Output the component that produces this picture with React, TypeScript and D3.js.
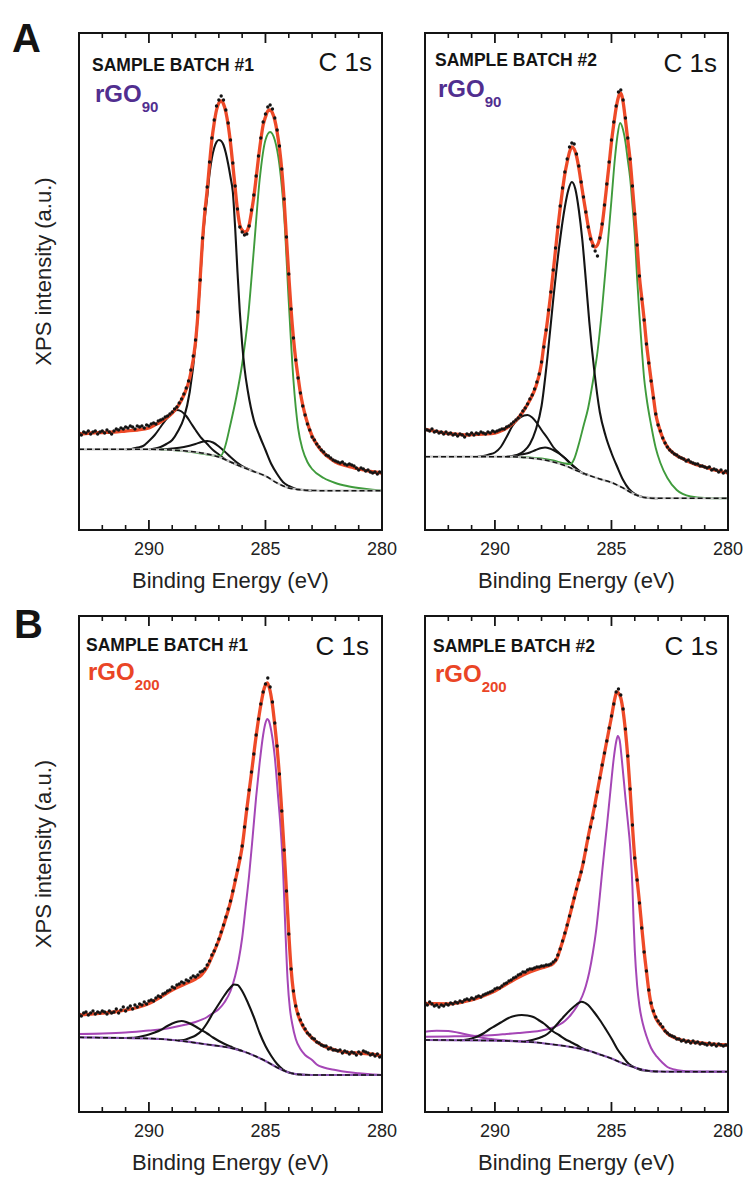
import React from 'react';
import * as d3 from 'd3';

type Pt = [number, number];

// ---------------- data ----------------
const energyDomain: [number, number] = [293, 280];
const majorTicks = [290, 285, 280];
const minorTicks = [292, 291, 289, 288, 287, 286, 284, 283, 282, 281];
const tickLabels = ['290', '285', '280'];
const dotStart = 293;
const dotStep = 0.1;

// ----- Panel A, batch 1 (rGO90) -----
const dotsA1 = [
  97, 95, 98, 97, 99, 96, 98, 99, 96, 98,
  99, 97, 100, 98, 96, 99, 101, 100, 102, 101,
  103, 102, 104, 103, 101, 104, 103, 104, 102, 105,
  104, 106, 107, 106, 109, 110, 111, 113, 114, 116,
  118, 121, 123, 127, 131, 136, 142, 149, 160, 174,
  190, 218, 250, 292, 321, 343, 368, 392, 410, 424,
  430, 434, 430, 420, 407, 390, 367, 344, 321, 303,
  298, 295, 296, 304, 320, 335, 354, 374, 392, 408,
  416, 423, 425, 421, 412, 400, 384, 361, 331, 293,
  256, 221, 192, 170, 152, 137, 124, 115, 106, 100,
  93, 90, 86, 83, 80, 78, 75, 74, 72, 70,
  69, 68, 67, 68, 66, 65, 66, 65, 64, 62,
  60, 62, 61, 59, 60, 58, 57, 58, 56, 58,
  57,
];
const fitA1: Pt[] = [[293,96],[292.5,97],[292,97.5],[291.5,98],[291,99],[290.5,100],[290,102],[289.75,105],[289.5,108],[289.25,112],[289,117],[288.75,124],[288.5,135],[288.25,152],[288,188],[287.9,215],[287.8,252],[287.7,290],[287.6,318],[287.5,340],[287.4,366],[287.3,390],[287.2,407],[287.1,420],[287,427],[286.9,429],[286.8,426],[286.7,418],[286.6,405],[286.5,387],[286.4,365],[286.3,342],[286.2,320],[286.1,305],[286,300],[285.9,298],[285.8,299],[285.7,305],[285.6,318],[285.5,333],[285.4,352],[285.3,372],[285.2,390],[285.1,405],[285,413],[284.9,419],[284.8,420],[284.7,417],[284.6,410],[284.5,398],[284.4,382],[284.3,360],[284.2,330],[284.1,292],[284,255],[283.9,220],[283.8,192],[283.7,170],[283.6,153],[283.5,137],[283.4,125],[283.25,111],[283,94],[282.75,84],[282.5,77],[282.25,72],[282,68],[281.5,64],[281,61],[280.5,58.5],[280,57]];
const baselineA1: Pt[] = [[293,80.7],[290,80.7],[289.5,80.5],[289,80],[288.5,79.2],[288,78],[287.5,76],[287,73],[286.5,68],[286,63],[285.5,58.5],[285,54],[284.5,47],[284,42],[283.5,40.3],[283,39.5],[282.5,39.3],[280,39.3]];
const mainA1: Pt[] = [[290,80.7],[289.75,81.5],[289.5,83],[289.25,86],[289,90],[288.75,99],[288.5,112],[288.25,138],[288,186],[287.9,215],[287.8,250],[287.7,287],[287.6,313],[287.5,333],[287.4,356],[287.3,372],[287.2,382],[287.1,388],[287,390],[286.9,389],[286.8,385],[286.7,377],[286.6,366],[286.5,353],[286.4,338],[286.3,302],[286.2,258],[286.1,218],[286,186],[285.9,162],[285.75,138],[285.5,110],[285.25,94],[285,80],[284.75,66],[284.5,56],[284.25,48],[284,44],[283.75,41.5],[283.5,40.3],[283,39.5]];
const greenA1: Pt[] = [[289.5,80.5],[289,80],[288.5,79],[288,77.5],[287.5,75.5],[287,74],[286.9,74.5],[286.75,82],[286.5,106],[286.25,133],[286,166],[285.75,212],[285.5,280],[285.25,350],[285,390],[284.8,398],[284.6,390],[284.4,365],[284.2,315],[284,228],[283.8,150],[283.6,102],[283.4,80],[283.2,68],[283,61],[282.5,52],[282,47],[281.5,44],[281,42],[280.5,40.5],[280,39.5]];
const smallA1a: Pt[] = [[291,80.7],[290.75,81],[290.5,82.5],[290.25,84],[290,89],[289.75,95],[289.5,103],[289.25,111],[289,117],[288.8,120],[288.6,118.5],[288.4,114],[288.2,107],[288,100],[287.75,92],[287.5,86],[287.25,80],[287,75.5],[286.75,71],[286.5,68.2],[286.25,65.6],[286,63]];
const smallA1b: Pt[] = [[289.5,80.7],[289,81.5],[288.5,83],[288,86],[287.75,88],[287.5,89],[287.25,87.5],[287,83.5],[286.75,78.5],[286.5,73],[286.25,68],[286,64],[285.75,61],[285.5,58.5]];

// ----- Panel A, batch 2 (rGO90) -----
const dotsA2 = [
  101, 100, 99, 101, 98, 99, 97, 98, 96, 98,
  96, 97, 95, 96, 94, 96, 95, 93, 96, 95,
  97, 95, 97, 96, 98, 97, 96, 98, 97, 99,
  98, 99, 100, 101, 101, 103, 104, 106, 108, 110,
  112, 115, 119, 122, 126, 131, 135, 141, 148, 156,
  168, 183, 200, 220, 238, 260, 282, 303, 324, 342,
  358, 371, 383, 387, 386, 376, 364, 348, 333, 318,
  303, 291, 284, 279, 274, 292, 306, 325, 346, 368,
  390, 408, 424, 438, 440, 430, 412, 392, 371, 344,
  316, 285, 254, 231, 210, 186, 167, 149, 132, 116,
  105, 99, 92, 87, 83, 80, 78, 76, 75, 73,
  72, 71, 69, 70, 68, 67, 66, 66, 64, 64,
  63, 62, 63, 60, 61, 60, 58, 60, 57, 59,
  57,
];
const fitA2: Pt[] = [[293,100.7],[292.5,98.5],[292,96.5],[291.5,95.5],[291.3,95],[291,95.3],[290.5,96],[290,97],[289.75,99],[289.5,102],[289.25,106],[289,112],[288.75,120],[288.5,130],[288.25,143],[288,167],[287.9,185],[287.8,200],[287.7,218],[287.6,237],[287.5,258],[287.4,280],[287.3,302],[287.2,322],[287.1,340],[287,356],[286.9,368],[286.8,378],[286.7,383],[286.6,381],[286.5,374],[286.4,362],[286.3,347],[286.2,332],[286.1,318],[286,304],[285.9,293],[285.8,286],[285.7,283],[285.6,285],[285.5,292],[285.4,305],[285.3,324],[285.2,345],[285.1,366],[285,388],[284.9,406],[284.8,422],[284.7,433],[284.63,437],[284.55,434],[284.5,428],[284.4,410],[284.3,390],[284.2,370],[284.1,343],[284,315],[283.9,285],[283.8,253],[283.7,232],[283.6,211],[283.5,187],[283.4,168],[283.3,150],[283.2,133],[283.1,116],[283,106],[282.8,92],[282.6,83],[282.4,78],[282.2,74.5],[282,72],[281.5,66.5],[281,63],[280.5,59.5],[280,57]];
const baselineA2: Pt[] = [[293,73.3],[289.25,73.3],[289,73],[288.5,72],[288,70.5],[287.5,68],[287,64.5],[286.5,59.5],[286,55],[285.5,51],[285,47.5],[284.5,42],[284,35.5],[283.5,32.3],[283,31.8],[280,31.7]];
const mainA2: Pt[] = [[289.5,73.3],[289.25,74],[289,75.5],[288.75,79],[288.5,86],[288.25,100],[288,124],[287.75,172],[287.5,230],[287.25,282],[287,323],[286.85,340],[286.7,348],[286.55,341],[286.4,320],[286.25,290],[286.1,250],[285.95,208],[285.75,162],[285.5,118],[285.25,94],[285,77],[284.75,63],[284.5,50],[284.25,41],[284,36],[283.75,33.5],[283.5,32.3],[283,31.8]];
const greenA2: Pt[] = [[289.25,73.3],[288.5,72.5],[288,71.5],[287.5,69.5],[287,66.5],[286.75,66],[286.6,71],[286.4,86],[286.2,104],[286,122],[285.8,148],[285.6,178],[285.4,222],[285.2,275],[285,330],[284.85,372],[284.75,393],[284.63,407],[284.5,400],[284.4,388],[284.3,370],[284.2,352],[284.1,325],[284,295],[283.9,252],[283.8,215],[283.7,182],[283.6,152],[283.5,133],[283.3,105],[283.1,82],[282.9,67],[282.6,52],[282.2,40],[281.6,33.5],[281,32],[280,31.7]];
const smallA2a: Pt[] = [[290.75,73.3],[290.5,74],[290.25,75.5],[290,77.5],[289.75,83],[289.5,93],[289.25,104],[289,111],[288.75,114.5],[288.6,115],[288.4,112.5],[288.2,107],[288,100],[287.75,92],[287.5,83],[287.25,77],[287,72],[286.75,66],[286.5,61],[286.25,57],[286,55]];
const smallA2b: Pt[] = [[289.5,73.3],[289.25,73.8],[289,75],[288.75,76],[288.5,77.5],[288.25,80],[288,82],[287.85,82.5],[287.65,81.5],[287.5,80],[287.25,76.5],[287,72],[286.75,66.5],[286.5,61.5],[286.25,57],[286,55]];

// ----- Panel B, batch 1 (rGO200) -----
const dotsB1 = [
  98, 96, 99, 100, 97, 99, 101, 98, 100, 99,
  101, 100, 98, 101, 99, 100, 103, 99, 102, 105,
  101, 104, 106, 103, 107, 105, 108, 107, 110, 108,
  111, 112, 111, 114, 116, 115, 118, 119, 121, 122,
  125, 124, 127, 128, 130, 129, 132, 131, 134, 136,
  135, 137, 140, 141, 143, 147, 151, 157, 161, 167,
  173, 180, 187, 195, 203, 211, 221, 232, 242, 254,
  266, 285, 303, 322, 340, 358, 377, 393, 408, 420,
  428, 434, 425, 410, 389, 366, 338, 301, 262, 221,
  178, 143, 121, 106, 98, 92, 87, 83, 79, 77,
  74, 73, 70, 69, 67, 66, 66, 63, 64, 62,
  62, 61, 62, 59, 61, 60, 58, 60, 59, 57,
  60, 58, 61, 60, 59, 57, 58, 56, 58, 55,
  56,
];
const fitB1: Pt[] = [[293,97],[292.5,97.8],[292,98.8],[291.5,100],[291,102],[290.5,104.5],[290,108.5],[289.5,115],[289,122],[288.5,127.5],[288,133],[287.75,137],[287.5,145],[287.25,158],[287,172],[286.75,190],[286.5,210],[286.25,236],[286,265],[285.8,303],[285.6,339],[285.4,376],[285.2,407],[285.05,424],[284.92,429],[284.8,421],[284.7,407],[284.6,387],[284.5,364],[284.4,336],[284.3,300],[284.2,262],[284.1,221],[284,179],[283.9,143],[283.8,120],[283.7,106],[283.6,97],[283.4,86],[283.2,79],[283,74],[282.8,70],[282.5,66],[282,62],[281.5,59.5],[281,59],[280.5,58],[280,56]];
const baselineB1: Pt[] = [[293,74.7],[292,74.3],[291,74],[290,73.5],[289.5,73],[289,72],[288.5,70.8],[288,69.2],[287.5,67.5],[287,66],[286.5,64],[286,61],[285.5,56.5],[285,51],[284.5,44.5],[284,39.5],[283.5,37.5],[283,37],[280,37]];
const purpleB1: Pt[] = [[293,78],[292,78.5],[291,79.5],[290,81.5],[289.5,82.5],[289,84.5],[288.5,87],[288,90],[287.5,95],[287.25,99],[287,103],[286.75,110],[286.5,121],[286.3,136],[286.15,152],[286,174],[285.85,205],[285.7,237],[285.55,275],[285.4,315],[285.25,349],[285.1,377],[285,389],[284.92,393],[284.85,391],[284.75,381],[284.6,355],[284.45,313],[284.35,284],[284.25,245],[284.15,185],[284.05,132],[283.95,103],[283.85,88],[283.7,73],[283.5,63],[283.3,57],[283,52],[282.8,47.5],[282.5,44.5],[282,42],[281.5,40],[281,38.7],[280.5,37.7],[280,37]];
const blackB1a: Pt[] = [[288.75,71.5],[288.5,72],[288.25,74],[288,76.5],[287.75,81],[287.5,89],[287.25,99],[287,108],[286.75,117],[286.5,124.5],[286.35,127.5],[286.2,127],[286,121],[285.75,109],[285.5,95],[285.25,79],[285,66],[284.75,56],[284.5,48],[284.25,42.5],[284,39.5],[283.75,38],[283.5,37.5],[283,37]];
const blackB1b: Pt[] = [[291,74],[290.75,74.1],[290.5,74.8],[290.25,76],[290,77.5],[289.75,79.5],[289.5,82],[289.25,85.5],[289,88.5],[288.75,90.5],[288.6,91],[288.4,90],[288.2,88],[288,85.5],[287.75,82],[287.5,78.5],[287.25,74.5],[287,71],[286.75,68],[286.5,65.5],[286.25,63],[286,61]];

// ----- Panel B, batch 2 (rGO200) -----
const dotsB2 = [
  109, 107, 110, 108, 106, 107, 105, 107, 106, 108,
  107, 109, 108, 110, 109, 111, 110, 112, 113, 112,
  114, 113, 115, 116, 115, 117, 118, 119, 120, 121,
  123, 124, 124, 126, 128, 129, 131, 132, 134, 135,
  137, 138, 140, 140, 142, 143, 143, 144, 145, 145,
  146, 146, 147, 147, 148, 150, 152, 157, 163, 171,
  179, 187, 196, 205, 214, 223, 232, 240, 250, 262,
  274, 285, 294, 306, 320, 334, 347, 359, 371, 384,
  396, 408, 420, 423, 417, 403, 383, 356, 323, 287,
  254, 232, 209, 184, 160, 141, 122, 109, 101, 95,
  91, 88, 85, 81, 79, 77, 76, 75, 73, 73,
  71, 72, 70, 71, 69, 71, 69, 70, 68, 69,
  68, 67, 69, 67, 68, 66, 68, 67, 66, 67,
  67,
];
const fitB2: Pt[] = [[293,108.7],[292.5,108.3],[292,108.2],[291.5,109.5],[291,112],[290.5,116],[290,121],[289.5,128],[289,134.5],[288.5,140],[288,144],[287.75,145.8],[287.5,148.5],[287.35,153],[287.2,163],[287,178],[286.75,200],[286.5,223],[286.25,245],[286,275],[285.75,303],[285.5,334],[285.25,365],[285,395],[284.85,414],[284.77,420],[284.7,419],[284.6,414],[284.5,401],[284.4,381],[284.3,355],[284.2,322],[284.1,286],[284,254],[283.9,232],[283.8,210],[283.7,185],[283.6,161],[283.5,141],[283.4,122],[283.3,108],[283.2,100],[283.1,94],[283,90],[282.8,84],[282.6,78.5],[282.4,75.5],[282.2,73.5],[282,72],[281.5,70],[281,68.5],[280.5,67.5],[280,67]];
const baselineB2: Pt[] = [[293,72],[291,71.7],[290,71.4],[289,70.7],[288.5,70],[288,69],[287.5,67.5],[287,66],[286.5,64],[286,61.5],[285.5,57.5],[285,53.5],[284.5,48.5],[284,44.5],[283.5,41.5],[283,40.5],[282.5,40.3],[280,40.3]];
const purpleB2: Pt[] = [[293,75.3],[292,75.6],[291,76],[290,77],[289.5,78],[289,79],[288.5,80],[288,81.5],[287.5,84.5],[287,91],[286.75,97],[286.5,105],[286.25,116],[286.1,126],[285.95,140],[285.8,159],[285.65,183],[285.5,216],[285.4,240],[285.3,263],[285.2,285],[285.05,320],[284.9,354],[284.8,370],[284.73,376],[284.65,372],[284.55,351],[284.4,314],[284.3,291],[284.2,266],[284.1,225],[284.05,190],[284,162],[283.9,127],[283.8,106],[283.65,88],[283.5,76],[283.3,64],[283.05,55.3],[282.8,49],[282.6,45],[282.3,42.5],[282,41.2],[281.5,40.5],[281,40.3],[280,40.3]];
const humpB2: Pt[] = [[293,80.3],[292.5,81.3],[292,81],[291.5,79],[291,76.5],[290.5,74],[290,72.5],[289.5,71.5],[289,70.8],[288.5,70]];
const blackB2a: Pt[] = [[288.75,70.3],[288.5,71.5],[288.25,73],[288,75],[287.75,78],[287.5,83.5],[287.25,90],[287,96.5],[286.75,102.5],[286.5,107.5],[286.28,110.3],[286,107],[285.75,100],[285.5,92],[285.25,83],[285,73.5],[284.75,63],[284.5,55],[284.25,48],[284,44.5],[283.75,42],[283.5,41.3],[283,40.5]];
const blackB2b: Pt[] = [[291.5,71.8],[291.25,72.3],[291,73.5],[290.75,75.5],[290.5,78.5],[290.25,82.5],[290,86],[289.75,89.5],[289.5,93],[289.25,95.5],[289,96.8],[288.85,97],[288.6,96.5],[288.35,95],[288.1,91.5],[287.9,88.5],[287.7,84.5],[287.5,80.5],[287.25,77],[287,73],[286.75,70],[286.5,67],[286.25,63.5],[286,61.5]];

// ---------------- styles ----------------
const FONT = '"Liberation Sans", Arial, Helvetica, sans-serif';
const RED = '#ee4a28';
const BLACK = '#141414';
const GREEN = '#3f9b3c';
const PURPLE = '#a546b6';
const TEXT_PURPLE = '#512e8f';
const TEXT_RED = '#ea4526';

interface Comp { pts: Pt[]; color: string; width: number }
interface PanelCfg {
  id: string;
  left: number; top: number; width: number; height: number;
  batch: string; sub: string; rgoColor: string;
  fit: Pt[]; baseline: Pt[]; dots: number[]; comps: Comp[];
  baseUnder: string;
  batchPos: [number, number]; c1sPos: [number, number]; rgoPos: [number, number];
  yLabel: boolean;
}

const panels: PanelCfg[] = [
  {
    id: 'a1', left: 79, top: 33, width: 303, height: 497,
    batch: 'SAMPLE BATCH #1', sub: '90', rgoColor: TEXT_PURPLE,
    fit: fitA1, baseline: baselineA1, dots: dotsA1,
    comps: [
      { pts: smallA1a, color: BLACK, width: 2 },
      { pts: smallA1b, color: BLACK, width: 2 },
      { pts: greenA1, color: GREEN, width: 1.9 },
      { pts: mainA1, color: BLACK, width: 2.1 },
    ],
    baseUnder: '#c4c4c4',
    batchPos: [13, 37.5], c1sPos: [293, 37.7], rgoPos: [16, 68.5], yLabel: true,
  },
  {
    id: 'a2', left: 425, top: 33, width: 303, height: 497,
    batch: 'SAMPLE BATCH #2', sub: '90', rgoColor: TEXT_PURPLE,
    fit: fitA2, baseline: baselineA2, dots: dotsA2,
    comps: [
      { pts: smallA2a, color: BLACK, width: 2 },
      { pts: smallA2b, color: BLACK, width: 2 },
      { pts: greenA2, color: GREEN, width: 1.9 },
      { pts: mainA2, color: BLACK, width: 2.1 },
    ],
    baseUnder: '#c4c4c4',
    batchPos: [10, 33], c1sPos: [292, 38.5], rgoPos: [13, 63.7], yLabel: false,
  },
  {
    id: 'b1', left: 79, top: 616, width: 303, height: 496,
    batch: 'SAMPLE BATCH #1', sub: '200', rgoColor: TEXT_RED,
    fit: fitB1, baseline: baselineB1, dots: dotsB1,
    comps: [
      { pts: purpleB1, color: PURPLE, width: 2 },
      { pts: blackB1b, color: BLACK, width: 2.1 },
      { pts: blackB1a, color: BLACK, width: 2.1 },
    ],
    baseUnder: '#8a55b0',
    batchPos: [7, 34.7], c1sPos: [290, 39], rgoPos: [9, 64], yLabel: true,
  },
  {
    id: 'b2', left: 425, top: 616, width: 303, height: 496,
    batch: 'SAMPLE BATCH #2', sub: '200', rgoColor: TEXT_RED,
    fit: fitB2, baseline: baselineB2, dots: dotsB2,
    comps: [
      { pts: humpB2, color: PURPLE, width: 2 },
      { pts: purpleB2, color: PURPLE, width: 2 },
      { pts: blackB2b, color: BLACK, width: 2.1 },
      { pts: blackB2a, color: BLACK, width: 2.1 },
    ],
    baseUnder: '#8a55b0',
    batchPos: [8, 35.5], c1sPos: [293, 39], rgoPos: [10, 65.7], yLabel: false,
  },
];

function Panel({ cfg }: { cfg: PanelCfg }) {
  const { width, height } = cfg;
  const x = d3.scaleLinear().domain(energyDomain).range([0, width]);
  const y = d3.scaleLinear().domain([0, height]).range([height, 0]);
  const line = d3
    .line<Pt>()
    .x((d) => x(d[0]))
    .y((d) => y(d[1]))
    .curve(d3.curveMonotoneX);
  const clipId = `clip-${cfg.id}`;
  const majorLen = 10;
  const minorLen = 5;

  return (
    <g transform={`translate(${cfg.left},${cfg.top})`}>
      <defs>
        <clipPath id={clipId}>
          <rect x={0} y={0} width={width} height={height} />
        </clipPath>
      </defs>
      <g clipPath={`url(#${clipId})`}>
        {cfg.comps.map((c, i) => (
          <path key={i} d={line(c.pts) || ''} fill="none" stroke={c.color} strokeWidth={c.width} strokeLinejoin="round" />
        ))}
        <path d={line(cfg.baseline) || ''} fill="none" stroke={cfg.baseUnder} strokeWidth={2.2} />
        <path d={line(cfg.baseline) || ''} fill="none" stroke={BLACK} strokeWidth={1.5} strokeDasharray="5 3" />
        <path d={line(cfg.fit) || ''} fill="none" stroke={RED} strokeWidth={3.3} strokeLinejoin="round" />
        {cfg.dots.map((v, i) => (
          <circle key={i} cx={x(dotStart - i * dotStep)} cy={y(v)} r={1.7} fill={BLACK} />
        ))}
      </g>
      <rect x={0} y={0} width={width} height={height} fill="none" stroke={BLACK} strokeWidth={2} />
      {majorTicks.map((t) => (
        <g key={`M${t}`}>
          <line x1={x(t)} x2={x(t)} y1={height} y2={height - majorLen} stroke={BLACK} strokeWidth={1.8} />
          <line x1={x(t)} x2={x(t)} y1={0} y2={majorLen} stroke={BLACK} strokeWidth={1.8} />
        </g>
      ))}
      {minorTicks.map((t) => (
        <g key={`m${t}`}>
          <line x1={x(t)} x2={x(t)} y1={height} y2={height - minorLen} stroke={BLACK} strokeWidth={1.6} />
          <line x1={x(t)} x2={x(t)} y1={0} y2={minorLen} stroke={BLACK} strokeWidth={1.6} />
        </g>
      ))}
      {majorTicks.map((t, i) => (
        <text key={`l${t}`} x={x(t)} y={height + 25} textAnchor="middle" fontFamily={FONT} fontSize={18} fill="#222">
          {tickLabels[i]}
        </text>
      ))}
      <text x={width / 2} y={height + 58} textAnchor="middle" fontFamily={FONT} fontSize={22} fill="#222">
        Binding Energy (eV)
      </text>
      {cfg.yLabel && (
        <text
          transform={`translate(${51 - cfg.left},${height / 2 - 10}) rotate(-90)`}
          textAnchor="middle"
          fontFamily={FONT}
          fontSize={22}
          fill="#222"
        >
          XPS intensity (a.u.)
        </text>
      )}
      <text x={cfg.batchPos[0]} y={cfg.batchPos[1]} fontFamily={FONT} fontWeight="bold" fontSize={17.5} fill={BLACK}>
        {cfg.batch}
      </text>
      <text x={cfg.c1sPos[0]} y={cfg.c1sPos[1]} textAnchor="end" fontFamily={FONT} fontSize={26} fill={BLACK}>
        C 1s
      </text>
      <text x={cfg.rgoPos[0]} y={cfg.rgoPos[1]} fontFamily={FONT} fontWeight="bold" fontSize={24} fill={cfg.rgoColor}>
        rGO
        <tspan dy={10} fontSize={15}>{cfg.sub}</tspan>
      </text>
    </g>
  );
}

export default function App() {
  return (
    <svg
      width={747}
      height={1177}
      viewBox="0 0 747 1177"
      style={{ position: 'absolute', left: 0, top: 0, background: '#fff', display: 'block' }}
    >
      <rect x={0} y={0} width={747} height={1177} fill="#fff" />
      <text x={12} y={52} fontFamily={FONT} fontWeight="bold" fontSize={40} fill={BLACK}>A</text>
      <text x={14} y={638} fontFamily={FONT} fontWeight="bold" fontSize={40} fill={BLACK}>B</text>
      {panels.map((p) => (
        <Panel key={p.id} cfg={p} />
      ))}
    </svg>
  );
}
